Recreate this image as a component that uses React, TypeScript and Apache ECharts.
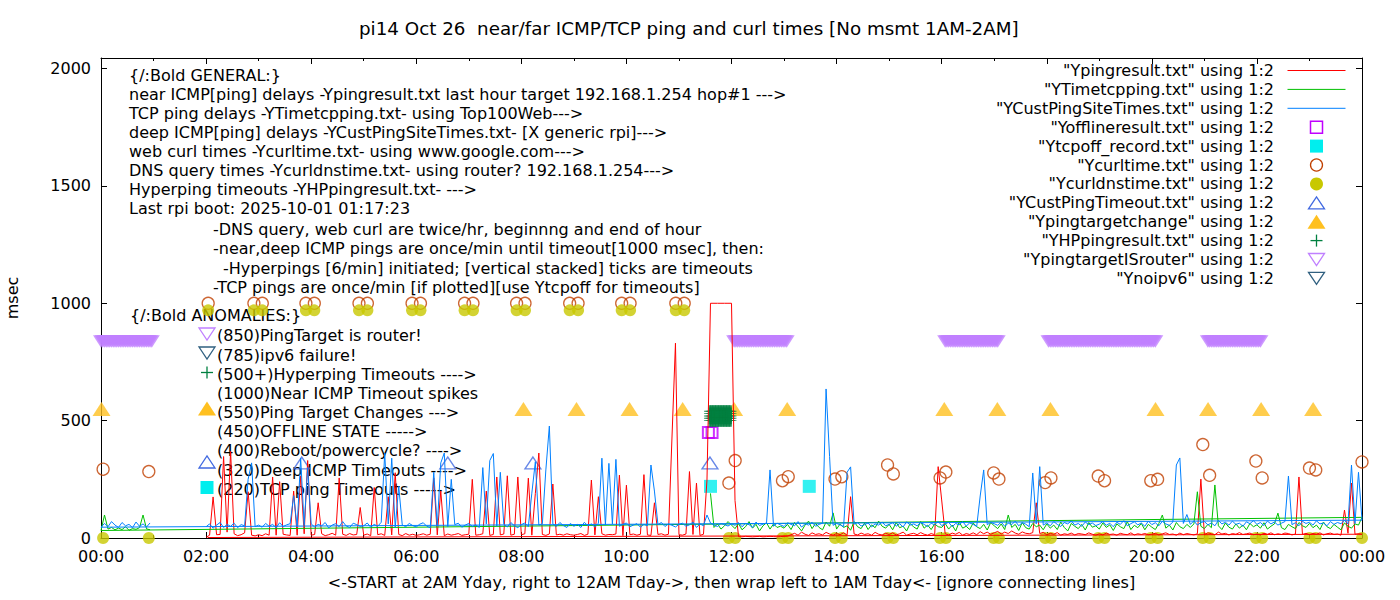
import React, { useEffect, useRef } from 'react';
import * as echarts from 'echarts';

const FONT = '"DejaVu Sans", sans-serif';
const SAMPLES_PER_HOUR = 15; // one reading every 4 minutes

// ---------- line series (rows = hours, 15 readings per hour) ----------
// near ICMP (Ypingresult.txt), 02:00 .. 23:56
const redRows: number[][] = [
  [3, 12, 175, 14, 15, 347, 25, 369, 18, 10, 14, 22, 197, 12, 9],
  [14, 10, 18, 12, 260, 12, 240, 16, 13, 11, 200, 12, 265, 18, 330],
  [12, 15, 150, 18, 10, 14, 20, 12, 256, 16, 11, 19, 13, 15, 130],
  [12, 17, 10, 215, 14, 18, 11, 176, 13, 278, 15, 10, 19, 12, 16],
  [11, 14, 18, 12, 16, 256, 13, 200, 10, 17, 12, 15, 19, 11, 14],
  [16, 250, 12, 14, 18, 200, 11, 15, 260, 13, 17, 265, 12, 16, 260],
  [14, 18, 255, 12, 190, 362, 15, 11, 17, 230, 13, 16, 12, 18, 14],
  [12, 15, 19, 11, 16, 247, 13, 176, 18, 12, 15, 14, 17, 268, 10],
  [225, 14, 17, 12, 16, 270, 13, 11, 150, 15, 18, 12, 16, 426, 830],
  [14, 12, 17, 283, 15, 234, 11, 16, 247, 1000, 1000, 1000, 1000, 1000, 1000],
  [1000, 160, 6, 5, 7, 6, 5, 6, 7, 5, 6, 7, 6, 5, 6],
  [7, 8, 14, 20, 12, 25, 16, 11, 22, 15, 18, 13, 24, 17, 12],
  [19, 14, 22, 12, 176, 17, 13, 21, 15, 18, 12, 24, 16, 13, 20],
  [15, 22, 13, 18, 25, 12, 17, 20, 14, 23, 16, 12, 19, 14, 304],
  [162, 18, 13, 21, 16, 24, 12, 19, 15, 22, 14, 27, 18, 25, 16],
  [22, 28, 17, 25, 19, 30, 21, 16, 26, 20, 18, 23, 150, 19, 24],
  [14, 20, 16, 23, 12, 18, 15, 21, 13, 19, 17, 14, 22, 16, 12],
  [18, 13, 21, 15, 17, 12, 20, 16, 14, 22, 13, 18, 15, 19, 14],
  [16, 20, 13, 18, 22, 15, 17, 12, 21, 14, 19, 16, 13, 18, 251],
  [15, 22, 18, 14, 25, 17, 20, 13, 19, 16, 23, 15, 18, 21, 14],
  [17, 13, 20, 16, 22, 14, 18, 15, 21, 19, 13, 17, 260, 15, 20],
  [14, 19, 16, 22, 13, 18, 21, 15, 17, 12, 119, 20, 234, 16, 18],
];
const redTail: number[][] = [[24, 16], [2.03, 2]];

// TCP ping (YTimetcpping.txt), from 11:00 row (first readings missing) .. 23:56
const greenRows: (number | null)[][] = [
  [null, null, null, null, null, null, null, null, null, 190, 45, 60, 38, 52, 70],
  [55, 40, 62, 35, 48, 70, 42, 58, 30, 52, 65, 38, 60, 45, 50],
  [42, 58, 36, 66, 48, 30, 55, 72, 40, 62, 45, 35, 68, 50, 107],
  [38, 60, 45, 52, 33, 70, 48, 40, 64, 36, 56, 44, 72, 50, 42],
  [58, 35, 66, 44, 50, 30, 62, 47, 38, 70, 42, 55, 36, 60, 48],
  [45, 62, 38, 55, 30, 68, 42, 50, 36, 64, 48, 40, 58, 34, 66],
  [52, 40, 60, 36, 98, 45, 58, 32, 66, 44, 38, 62, 48, 55, 35],
  [60, 42, 55, 36, 68, 45, 30, 62, 50, 40, 58, 34, 66, 46, 52],
  [38, 64, 45, 56, 32, 60, 48, 40, 70, 36, 54, 44, 62, 35, 58],
  [46, 36, 62, 98, 42, 55, 34, 66, 48, 40, 58, 45, 60, 197, 50],
  [40, 58, 44, 226, 52, 36, 64, 46, 38, 60, 42, 55, 35, 62, 48],
  [56, 42, 65, 38, 50, 60, 106, 44, 36, 58, 48, 40, 66, 52, 45],
  [62, 44, 55, 36, 68, 48, 40, 58, 46, 35, 64, 50, 42, 60, 55],
];
const greenEnd: number[][] = [[24, 88]];
const greenEarlyRows: number[][] = [[32, 98, 38, 45, 35, 42, 36, 48, 33, 40, 37, 44, 98, 39, 35]];

// deep ICMP (YCustPingSiteTimes.txt), 02:00 .. 23:56
const blueRows: number[][] = [
  [48, 60, 42, 55, 66, 45, 58, 50, 63, 44, 57, 52, 250, 320, 48],
  [55, 46, 62, 50, 58, 44, 65, 49, 56, 61, 180, 48, 340, 55, 300],
  [60, 47, 58, 52, 66, 43, 55, 61, 48, 70, 51, 45, 63, 57, 49],
  [52, 64, 46, 58, 50, 67, 362, 60, 340, 45, 220, 56, 48, 62, 53],
  [47, 59, 65, 50, 44, 280, 50, 320, 362, 48, 250, 57, 63, 46, 55],
  [62, 49, 56, 45, 300, 60, 330, 360, 50, 280, 58, 47, 66, 52, 44],
  [57, 64, 48, 191, 325, 55, 61, 290, 477, 60, 49, 66, 53, 45, 62],
  [50, 58, 45, 67, 52, 60, 47, 63, 340, 55, 318, 60, 335, 50, 58],
  [64, 48, 55, 61, 46, 58, 52, 311, 200, 57, 66, 49, 60, 54, 47],
  [58, 63, 50, 56, 68, 45, 60, 52, 98, 64, 55, 49, 62, 57, 51],
  [60, 54, 66, 48, 62, 57, 45, 68, 53, 59, 64, 290, 50, 63, 56],
  [49, 65, 58, 52, 70, 46, 61, 55, 67, 50, 58, 63, 635, 347, 54],
  [62, 56, 48, 280, 303, 59, 66, 51, 57, 64, 47, 60, 55, 68, 52],
  [58, 65, 50, 61, 47, 69, 55, 60, 52, 66, 58, 48, 63, 56, 71],
  [53, 60, 67, 48, 62, 56, 70, 51, 64, 58, 49, 179, 290, 57, 66],
  [61, 54, 68, 50, 63, 57, 72, 52, 65, 59, 48, 277, 60, 304, 55],
  [64, 52, 70, 58, 49, 66, 60, 73, 55, 62, 50, 68, 57, 64, 53],
  [59, 70, 54, 63, 48, 67, 58, 74, 52, 61, 69, 56, 64, 50, 72],
  [57, 65, 52, 71, 60, 54, 68, 311, 341, 62, 100, 58, 73, 55, 66],
  [70, 56, 64, 52, 75, 60, 67, 55, 72, 58, 63, 50, 69, 61, 74],
  [58, 66, 53, 72, 60, 68, 55, 63, 70, 264, 57, 65, 52, 71, 62],
  [67, 55, 73, 60, 64, 52, 70, 58, 66, 61, 75, 60, 311, 62, 280],
];
const blueEnd: number[][] = [[24, 76]];
const blueEarlyRows: number[][] = [[46, 62, 48, 70, 55, 45, 66, 52, 58, 44, 68, 50, 60, 47, 64]];

// ---------- point series ----------
const offlineHours = [11.56, 11.63];
const offlineMs = [450, 450];

const tcpoffHours = [11.6, 13.48];
const tcpoffMs = [220, 220];

const curlHours = [0.04, 0.91, 2.04, 2.91, 3.07, 3.9, 4.06, 4.91, 5.07, 5.92, 6.08, 6.92, 7.08, 7.91, 8.07, 8.92, 9.08, 9.91, 10.07, 10.94, 11.1,
  11.95, 12.07, 12.97, 13.08, 13.97, 14.1, 14.97, 15.08, 15.97, 16.08, 16.99, 17.09, 17.97, 18.08, 18.98, 19.1, 19.98, 20.11, 20.97, 21.1, 21.98, 22.1, 23.0, 23.12, 24.0];
const curlMs = [293, 283, 1000, 1000, 1000, 1000, 1000, 1000, 1000, 1000, 1000, 1000, 1000, 1000, 1000, 1000, 1000, 1000, 1000, 1000, 1000,
  234, 330, 244, 261, 251, 261, 311, 273, 256, 281, 277, 251, 236, 256, 264, 244, 244, 250, 398, 267, 328, 256, 298, 290, 324];

const dnsHours = curlHours;
const dnsMs = [0, 0, 970, 970, 970, 970, 970, 970, 970, 970, 970, 970, 970, 970, 970, 970, 970, 970, 970, 970, 970,
  0, 0, 0, 0, 0, 0, 0, 0, 0, 0, 0, 0, 0, 0, 0, 0, 0, 0, 0, 0, 0, 0, 0, 0, 0];

const custTimeoutHours = [3.82, 6.6, 8.22, 11.59];
const custTimeoutMs = [320, 320, 320, 320];

const targetChangeHours = [0.01, 8.04, 9.05, 10.06, 11.07, 12.05, 13.06, 16.05, 17.06, 18.07, 20.07, 21.07, 22.08, 23.07];
const targetChangeMs = [550, 550, 550, 550, 550, 550, 550, 550, 550, 550, 550, 550, 550, 550];

const hpHours = [11.59, 11.62, 11.65, 11.68, 11.71, 11.74, 11.77, 11.8, 11.83, 11.86, 11.89, 11.92, 11.95, 11.98];
const hpStackMs = [500, 510, 520, 530, 540];

// ping target is router: readings, minute of day (every 2 min)
const routerMinutes = [
  0, 2, 4, 6, 8, 10, 12, 14, 16, 18, 20, 22, 24, 26, 28, 30, 32, 34, 36, 38, 40, 42, 44, 46, 48, 50, 52, 54, 56, 58,
  723, 725, 727, 729, 731, 733, 735, 737, 739, 741, 743, 745, 747, 749, 751, 753, 755, 757, 759, 761, 763, 765, 767, 769, 771, 773, 775, 777, 779, 781, 783,
  964, 966, 968, 970, 972, 974, 976, 978, 980, 982, 984, 986, 988, 990, 992, 994, 996, 998, 1000, 1002, 1004, 1006, 1008, 1010, 1012, 1014, 1016, 1018, 1020, 1022, 1024,
  1082, 1084, 1086, 1088, 1090, 1092, 1094, 1096, 1098, 1100, 1102, 1104, 1106, 1108, 1110, 1112, 1114, 1116, 1118, 1120,
  1122, 1124, 1126, 1128, 1130, 1132, 1134, 1136, 1138, 1140, 1142, 1144, 1146, 1148, 1150, 1152, 1154, 1156, 1158, 1160,
  1162, 1164, 1166, 1168, 1170, 1172, 1174, 1176, 1178, 1180, 1182, 1184, 1186, 1188, 1190, 1192, 1194, 1196, 1198, 1200, 1202, 1204,
  1264, 1266, 1268, 1270, 1272, 1274, 1276, 1278, 1280, 1282, 1284, 1286, 1288, 1290, 1292, 1294, 1296, 1298, 1300, 1302, 1304, 1306, 1308, 1310, 1312, 1314, 1316, 1318, 1320, 1322, 1324,
];
const routerMs = 850;

const noipv6Hours: number[] = [];
const noipv6Ms: number[] = [];

// ---------- texts ----------
const titleText = 'pi14 Oct 26  near/far ICMP/TCP ping and curl times [No msmt 1AM-2AM]';
const xAxisName = '<-START at 2AM Yday, right to 12AM Tday->, then wrap left to 1AM Tday<- [ignore connecting lines]';
const yAxisName = 'msec';
const yTicks = [0, 500, 1000, 1500, 2000];

const seriesNames = [
  '"Ypingresult.txt" using 1:2',
  '"YTimetcpping.txt" using 1:2',
  '"YCustPingSiteTimes.txt" using 1:2',
  '"Yofflineresult.txt" using 1:2',
  '"Ytcpoff_record.txt" using 1:2',
  '"Ycurltime.txt" using 1:2',
  '"Ycurldnstime.txt" using 1:2',
  '"YCustPingTimeout.txt" using 1:2',
  '"Ypingtargetchange" using 1:2',
  '"YHPpingresult.txt" using 1:2',
  '"YpingtargetISrouter" using 1:2',
  '"Ynoipv6" using 1:2',
];

const generalLines = [
  '{/:Bold GENERAL:}',
  'near ICMP[ping] delays -Ypingresult.txt last hour target 192.168.1.254 hop#1 --->',
  'TCP ping delays -YTimetcpping.txt- using Top100Web--->',
  'deep ICMP[ping] delays -YCustPingSiteTimes.txt- [X generic rpi]--->',
  'web curl times -Ycurltime.txt- using www.google.com--->',
  'DNS query times -Ycurldnstime.txt- using router? 192.168.1.254--->',
  'Hyperping timeouts -YHPpingresult.txt- --->',
  'Last rpi boot: 2025-10-01 01:17:23',
];
const noteLines = [
  '-DNS query, web curl are twice/hr, beginnng and end of hour',
  '-near,deep ICMP pings are once/min until timeout[1000 msec], then:',
  '-Hyperpings [6/min] initiated; [vertical stacked] ticks are timeouts',
  '-TCP pings are once/min [if plotted][use Ytcpoff for timeouts]',
];
const anomalyLines = [
  '{/:Bold ANOMALIES:}',
  '(850)PingTarget is router!',
  '(785)ipv6 failure!',
  '(500+)Hyperping Timeouts ---->',
  '(1000)Near ICMP Timeout spikes',
  '(550)Ping Target Changes --->',
  '(450)OFFLINE STATE ----->',
  '(400)Reboot/powercycle? ---->',
  '(320)Deep ICMP Timeouts ---->',
  '(220)TCP ping Timeouts ----->',
];

const COLORS = {
  red: '#ff0000', green: '#00c000', blue: '#0080ff', magenta: '#c000ff', cyan: '#00eeee',
  curl: '#c04000', dns: '#c8c800', royal: '#4169e1', orange: '#ffc020', hp: '#008040',
  lav: '#c080ff', slate: '#306080',
};

function hourSeries(startHour: number, rows: (number | null)[][]) {
  const pts: number[][] = [];
  rows.forEach((row, r) => {
    row.forEach((v, k) => {
      if (v !== null) pts.push([+(startHour + r + k / SAMPLES_PER_HOUR).toFixed(4), v]);
    });
  });
  return pts;
}
const zip = (xs: number[], ys: number[]) => xs.map((x, i) => [x, ys[i]]);

// plus marker: thick vertical stroke, thin horizontal stroke (stacked ticks merge into a block)
const PLUS_PATH = 'path://M5,0h3v6h5v1h-5v6h-3v-6h-5v-1h5z';

function textEl(x: number, y: number, text: string, align = 'left') {
  return {
    type: 'text', x, y, silent: true,
    style: { text, fill: '#000', fontSize: 16, fontFamily: FONT, align, verticalAlign: 'middle' },
  };
}

function iconEl(kind: string, cx: number, cy: number, color: string) {
  const w = 8, h = 6;
  switch (kind) {
    case 'line':
      return [{ type: 'line', shape: { x1: cx - 29, y1: cy, x2: cx + 29, y2: cy }, style: { stroke: color, lineWidth: 1 } }];
    case 'sqOpen':
      return [{ type: 'rect', shape: { x: cx - 6, y: cy - 6, width: 12, height: 12 }, style: { fill: 'none', stroke: color, lineWidth: 1.5 } }];
    case 'sqFill':
      return [{ type: 'rect', shape: { x: cx - 6.5, y: cy - 6.5, width: 13, height: 13 }, style: { fill: color } }];
    case 'circOpen':
      return [{ type: 'circle', shape: { cx, cy, r: 6 }, style: { fill: 'none', stroke: color, lineWidth: 1.3 } }];
    case 'circFill':
      return [{ type: 'circle', shape: { cx, cy, r: 6.5 }, style: { fill: color } }];
    case 'triOpen':
      return [{ type: 'polygon', shape: { points: [[cx - w, cy + h], [cx + w, cy + h], [cx, cy - h]] }, style: { fill: 'none', stroke: color, lineWidth: 1.3 } }];
    case 'triFill':
      return [{ type: 'polygon', shape: { points: [[cx - w - 1, cy + h + 1], [cx + w + 1, cy + h + 1], [cx, cy - h - 1]] }, style: { fill: color } }];
    case 'triDownOpen':
      return [{ type: 'polygon', shape: { points: [[cx - w, cy - h], [cx + w, cy - h], [cx, cy + h]] }, style: { fill: 'none', stroke: color, lineWidth: 1.3 } }];
    case 'plus':
      return [
        { type: 'line', shape: { x1: cx - 6, y1: cy, x2: cx + 6, y2: cy }, style: { stroke: color, lineWidth: 1.3 } },
        { type: 'line', shape: { x1: cx, y1: cy - 6, x2: cx, y2: cy + 6 }, style: { stroke: color, lineWidth: 1.3 } },
      ];
    default:
      return [];
  }
}

const legendKinds = ['line', 'line', 'line', 'sqOpen', 'sqFill', 'circOpen', 'circFill', 'triOpen', 'triFill', 'plus', 'triDownOpen', 'triDownOpen'];
const legendColors = [COLORS.red, COLORS.green, COLORS.blue, COLORS.magenta, COLORS.cyan, COLORS.curl, COLORS.dns, COLORS.royal, COLORS.orange, COLORS.hp, COLORS.lav, COLORS.slate];

function buildGraphic() {
  const els: any[] = [];
  const gY = [75, 94.5, 113.5, 132.5, 151.5, 170.5, 189.5, 208.5];
  generalLines.forEach((t, i) => els.push(textEl(129, gY[i], t)));
  const nX = [213, 213, 223, 213];
  const nY = [229, 248.5, 268, 287];
  noteLines.forEach((t, i) => els.push(textEl(nX[i], nY[i], t)));
  const aY = [315.5, 335.5, 355, 374, 393, 412.5, 431.5, 450.5, 470, 489];
  anomalyLines.forEach((t, i) => els.push(textEl(i === 0 ? 130 : 217, aY[i], t)));
  els.push(...iconEl('triDownOpen', 207, 334, COLORS.lav));
  els.push(...iconEl('triDownOpen', 207, 353, COLORS.slate));
  els.push(...iconEl('plus', 207, 372.5, COLORS.hp));
  els.push(...iconEl('triFill', 207, 408.5, COLORS.orange));
  els.push(...iconEl('triOpen', 207, 462, COLORS.royal));
  els.push(...iconEl('sqFill', 207, 487.5, COLORS.cyan));
  seriesNames.forEach((name, i) => {
    const y = 70.5 + i * 18.9;
    els.push(textEl(1274, y, name, 'right'));
    els.push(...iconEl(legendKinds[i], 1316.5, y, legendColors[i]));
  });
  return els;
}

export default function App() {
  const ref = useRef<HTMLDivElement>(null);
  useEffect(() => {
    if (!ref.current) return;
    const chart = echarts.init(ref.current, null, { renderer: 'svg' });

    const hourLabel = (v: number) => String(Math.round(v) % 24).padStart(2, '0') + ':00';
    const xBase = {
      type: 'value', min: 0, max: 24, interval: 2,
      splitLine: { show: false },
      axisLine: { show: true, onZero: false, lineStyle: { color: '#000', width: 1 } },
      axisTick: { show: true, inside: true, length: 6, lineStyle: { color: '#000' } },
      minorTick: { show: true, splitNumber: 2, length: 3, lineStyle: { color: '#000' } },
      minorSplitLine: { show: false },
    };
    const yBase = {
      type: 'value', min: 0, max: 2045,
      splitLine: { show: false },
      axisLine: { show: true, onZero: false, lineStyle: { color: '#000', width: 1 } },
      axisTick: { show: true, inside: true, length: 6, customValues: yTicks, lineStyle: { color: '#000' } },
    };
    const lineSeries = (name: string, data: number[][], color: string) => ({
      name, type: 'line', data, showSymbol: false, symbol: 'none',
      lineStyle: { color, width: 1 }, itemStyle: { color }, emphasis: { disabled: true },
    });
    const scatter = (name: string, data: number[][], extra: any) => ({
      name, type: 'scatter', data, clip: false, emphasis: { disabled: true }, ...extra,
    });

    const hpData: number[][] = [];
    hpHours.forEach((h) => hpStackMs.forEach((m) => hpData.push([h, m])));

    chart.setOption({
      animation: false,
      backgroundColor: '#fff',
      title: {
        text: titleText, left: 354, top: 14,
        textStyle: { fontSize: 18.3, fontWeight: 'normal', fontFamily: FONT, color: '#000' },
      },
      grid: { left: 101, right: 38, top: 58, bottom: 62, containLabel: false, outerBoundsMode: 'none' },
      xAxis: [
        {
          ...xBase, position: 'bottom',
          name: xAxisName, nameLocation: 'middle', nameGap: 36,
          nameTextStyle: { fontSize: 16, fontFamily: FONT, color: '#000' },
          axisLabel: { show: true, formatter: hourLabel, fontSize: 16, fontFamily: FONT, color: '#000', margin: 10, showMinLabel: true, showMaxLabel: true },
        },
        { ...xBase, position: 'top', axisLabel: { show: false } },
      ],
      yAxis: [
        {
          ...yBase, position: 'left',
          name: yAxisName, nameLocation: 'middle', nameGap: 81, nameRotate: 90,
          nameTextStyle: { fontSize: 16, fontFamily: FONT, color: '#000' },
          axisLabel: { show: true, customValues: yTicks, formatter: (v: number) => String(v), fontSize: 16, fontFamily: FONT, color: '#000', margin: 10 },
        },
        { ...yBase, position: 'right', axisLabel: { show: false } },
      ],
      series: [
        lineSeries(seriesNames[0], [...hourSeries(2, redRows), ...redTail], COLORS.red),
        lineSeries(seriesNames[1], [...hourSeries(11, greenRows), ...greenEnd, ...hourSeries(0, greenEarlyRows)], COLORS.green),
        lineSeries(seriesNames[2], [...hourSeries(2, blueRows), ...blueEnd, ...hourSeries(0, blueEarlyRows)], COLORS.blue),
        scatter(seriesNames[3], zip(offlineHours, offlineMs), {
          symbol: 'rect', symbolSize: 11, itemStyle: { color: 'transparent', borderColor: COLORS.magenta, borderWidth: 2 },
        }),
        scatter(seriesNames[4], zip(tcpoffHours, tcpoffMs), {
          symbol: 'rect', symbolSize: 13, itemStyle: { color: COLORS.cyan },
        }),
        scatter(seriesNames[5], zip(curlHours, curlMs), {
          symbol: 'circle', symbolSize: 12, itemStyle: { color: 'transparent', borderColor: COLORS.curl, borderWidth: 1.3 },
        }),
        scatter(seriesNames[6], zip(dnsHours, dnsMs), {
          symbol: 'circle', symbolSize: 12, itemStyle: { color: COLORS.dns },
        }),
        scatter(seriesNames[7], zip(custTimeoutHours, custTimeoutMs), {
          symbol: 'triangle', symbolSize: [16, 12], itemStyle: { color: 'transparent', borderColor: COLORS.royal, borderWidth: 1.3 },
        }),
        scatter(seriesNames[8], zip(targetChangeHours, targetChangeMs), {
          symbol: 'triangle', symbolSize: [18, 14], itemStyle: { color: COLORS.orange },
        }),
        scatter(seriesNames[9], hpData, {
          symbol: PLUS_PATH, symbolSize: 12, itemStyle: { color: COLORS.hp },
        }),
        scatter(seriesNames[10], routerMinutes.map((m) => [m / 60, routerMs]), {
          symbol: 'triangle', symbolRotate: 180, symbolSize: [16, 12.5], symbolOffset: [0, 3], itemStyle: { color: COLORS.lav },
        }),
        scatter(seriesNames[11], zip(noipv6Hours, noipv6Ms), {
          symbol: 'triangle', symbolRotate: 180, symbolSize: [16, 12], itemStyle: { color: 'transparent', borderColor: COLORS.slate, borderWidth: 1.3 },
        }),
      ],
      graphic: buildGraphic(),
    });
    return () => chart.dispose();
  }, []);

  return <div ref={ref} style={{ position: 'fixed', left: 0, top: 0, width: 1400, height: 600, background: '#fff' }} />;
}
